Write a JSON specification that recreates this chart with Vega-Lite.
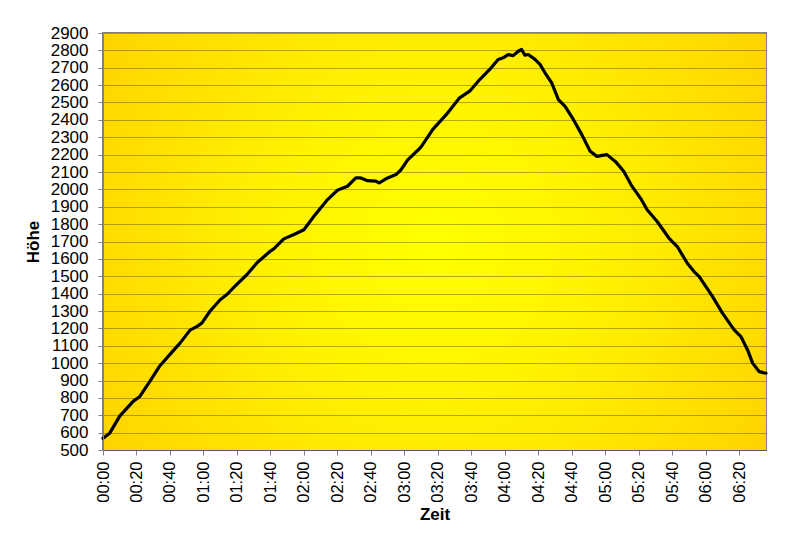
{
  "$schema": "https://vega.github.io/schema/vega-lite/v6.json",
  "width": 663,
  "height": 417,
  "autosize": {"type": "none"},
  "padding": {"left": 103, "top": 33, "right": 33, "bottom": 97},
  "background": "#ffffff",
  "config": {
    "view": {"stroke": "#808080", "strokeWidth": 2},
    "font": "Liberation Sans",
    "axis": {
      "labelFont": "Liberation Sans",
      "titleFont": "Liberation Sans",
      "labelColor": "#000000",
      "titleColor": "#000000",
      "domainColor": "#808080",
      "tickColor": "#808080",
      "gridColor": "#000000",
      "gridOpacity": 0.3,
      "labelOverlap": false
    },
    "axisX": {
      "titleFontSize": 17,
      "titleFontWeight": "bold",
      "titlePadding": 4,
      "labelAngle": -90,
      "labelFontSize": 16.5,
      "labelPadding": 6,
      "tickSize": 5,
      "grid": false
    },
    "axisY": {
      "titleFontSize": 17,
      "titleFontWeight": "bold",
      "titlePadding": 8,
      "labelFontSize": 17,
      "labelPadding": 10,
      "tickSize": 5,
      "grid": true,
      "labelBound": false,
      "labelFlush": false
    }
  },
  "data": {"values": [
    {"t": 0, "h": 567}, {"t": 4, "h": 597}, {"t": 10, "h": 695}, {"t": 18, "h": 780},
    {"t": 22, "h": 808}, {"t": 28, "h": 895}, {"t": 34, "h": 985}, {"t": 40, "h": 1050},
    {"t": 46, "h": 1115}, {"t": 52, "h": 1190}, {"t": 56, "h": 1210}, {"t": 59, "h": 1230},
    {"t": 64, "h": 1300}, {"t": 70, "h": 1365}, {"t": 74, "h": 1395}, {"t": 79, "h": 1445},
    {"t": 86, "h": 1510}, {"t": 92, "h": 1578}, {"t": 100, "h": 1645}, {"t": 102, "h": 1657},
    {"t": 108, "h": 1715}, {"t": 114, "h": 1740}, {"t": 120, "h": 1768}, {"t": 126, "h": 1845},
    {"t": 134, "h": 1940}, {"t": 140, "h": 1995}, {"t": 146, "h": 2018}, {"t": 151, "h": 2066},
    {"t": 154, "h": 2066}, {"t": 158, "h": 2050}, {"t": 163, "h": 2047}, {"t": 165, "h": 2037},
    {"t": 170, "h": 2066}, {"t": 175, "h": 2085}, {"t": 178, "h": 2113}, {"t": 182, "h": 2170},
    {"t": 188, "h": 2225}, {"t": 190, "h": 2245}, {"t": 197, "h": 2345}, {"t": 205, "h": 2430},
    {"t": 213, "h": 2527}, {"t": 219, "h": 2565}, {"t": 225, "h": 2632}, {"t": 231, "h": 2690},
    {"t": 236, "h": 2748}, {"t": 239, "h": 2757}, {"t": 242, "h": 2776}, {"t": 245, "h": 2770},
    {"t": 248, "h": 2795}, {"t": 250, "h": 2805}, {"t": 252, "h": 2772}, {"t": 254, "h": 2776},
    {"t": 258, "h": 2748}, {"t": 261, "h": 2719}, {"t": 264, "h": 2671}, {"t": 268, "h": 2613},
    {"t": 272, "h": 2517}, {"t": 276, "h": 2478}, {"t": 281, "h": 2401}, {"t": 286, "h": 2315},
    {"t": 289, "h": 2257}, {"t": 291, "h": 2219}, {"t": 295, "h": 2190}, {"t": 301, "h": 2200},
    {"t": 306, "h": 2161}, {"t": 311, "h": 2104}, {"t": 316, "h": 2017}, {"t": 321, "h": 1950},
    {"t": 325, "h": 1883}, {"t": 331, "h": 1815}, {"t": 338, "h": 1720}, {"t": 343, "h": 1671},
    {"t": 349, "h": 1575}, {"t": 353, "h": 1527}, {"t": 356, "h": 1499}, {"t": 364, "h": 1384},
    {"t": 370, "h": 1288}, {"t": 377, "h": 1191}, {"t": 381, "h": 1153}, {"t": 385, "h": 1076},
    {"t": 388, "h": 1000}, {"t": 392, "h": 951}, {"t": 396, "h": 942}
  ]},
  "encoding": {
    "x": {
      "field": "t", "type": "quantitative",
      "scale": {"domain": [0, 396], "nice": false, "zero": false},
      "axis": {
        "title": "Zeit",
        "values": [0, 20, 40, 60, 80, 100, 120, 140, 160, 180, 200, 220, 240, 260, 280, 300, 320, 340, 360, 380],
        "labelExpr": "(floor(datum.value/60) < 10 ? '0' : '') + floor(datum.value/60) + ':' + (datum.value % 60 < 10 ? '0' : '') + (datum.value % 60)",
        "labelOverlap": false,
        "grid": false
      }
    },
    "y": {
      "field": "h", "type": "quantitative",
      "scale": {"domain": [500, 2900], "nice": false, "zero": false},
      "axis": {
        "title": "Höhe",
        "format": "d",
        "grid": true,
        "zindex": 1,
        "values": [500, 600, 700, 800, 900, 1000, 1100, 1200, 1300, 1400, 1500, 1600, 1700, 1800, 1900, 2000, 2100, 2200, 2300, 2400, 2500, 2600, 2700, 2800, 2900],
        "labelOverlap": false
      }
    }
  },
  "layer": [
    {
      "mark": {
        "type": "rect",
        "color": {
          "gradient": "radial",
          "x1": 0.5, "y1": 0.5, "r1": 0,
          "x2": 0.5, "y2": 0.5, "r2": 0.72,
          "stops": [
            {"offset": 0, "color": "#ffff00"},
            {"offset": 0.35, "color": "#fff200"},
            {"offset": 1, "color": "#ffc800"}
          ]
        }
      },
      "encoding": {
        "x": {"datum": 0, "type": "quantitative"},
        "x2": {"datum": 396},
        "y": {"datum": 500, "type": "quantitative"},
        "y2": {"datum": 2900}
      }
    },
    {
      "mark": {"type": "line", "color": "#000000", "strokeWidth": 3.2, "strokeJoin": "round", "strokeCap": "round"},
      "encoding": {}
    }
  ]
}
